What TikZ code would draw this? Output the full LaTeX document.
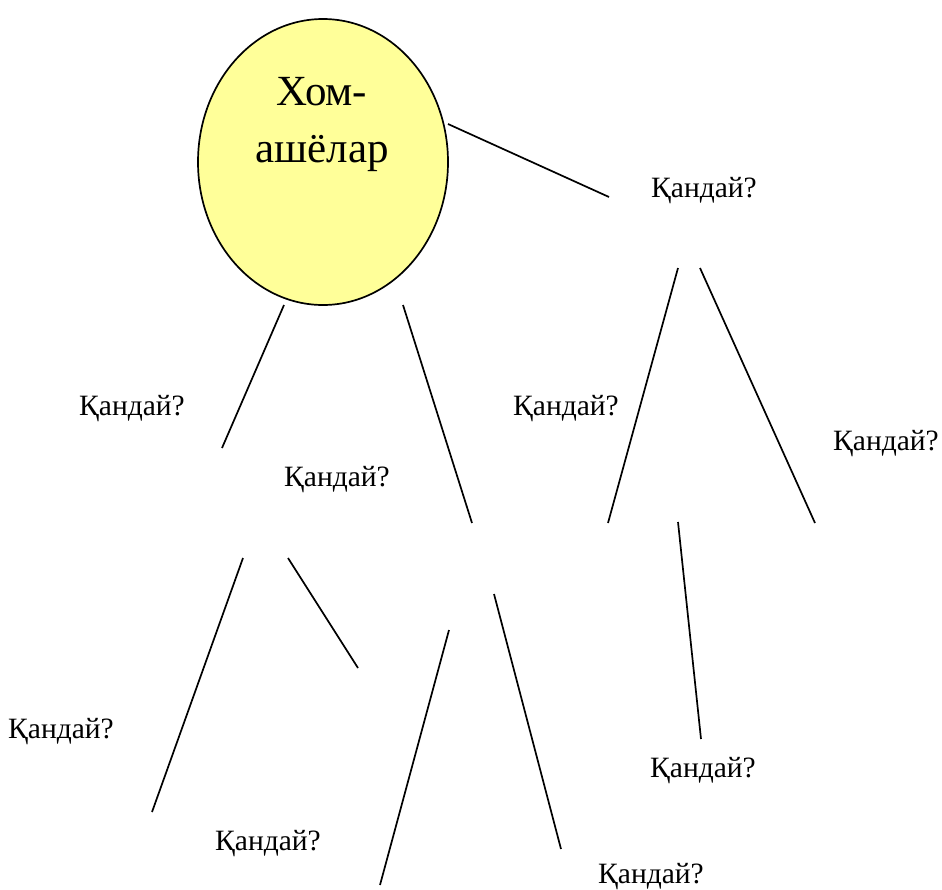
\documentclass[tikz,border=0pt]{standalone}
\usepackage{fontspec}
\setmainfont{Liberation Serif}
\usetikzlibrary{shapes.geometric}
\definecolor{rootfill}{HTML}{FFFF99}
\begin{document}
\begin{tikzpicture}[x=1pt,y=-1pt,
  q/.style={anchor=base,inner sep=0pt,font=\fontsize{29.5}{35}\selectfont},
  big/.style={anchor=base,inner sep=0pt,font=\fontsize{43}{52}\selectfont},
  conn/.style={line width=1.7pt,black}]
\useasboundingbox (0,0) rectangle (942,889);
\node[ellipse,draw,line width=1.7pt,fill=rootfill,minimum width=250,minimum height=286,inner sep=0pt] (root) at (323,162) {};
\node[big] (t1) at (322,105) {Хом-};
\node[big] (t2) at (322,162) {ашёлар};
% question labels
\node[q] (q1) at (704,197) {Қандай?};
\node[q] (q2) at (132,415) {Қандай?};
\node[q] (q3) at (337,486) {Қандай?};
\node[q] (q4) at (566,415) {Қандай?};
\node[q] (q5) at (886,450) {Қандай?};
\node[q] (q6) at (61,738) {Қандай?};
\node[q] (q7) at (703,777) {Қандай?};
\node[q] (q8) at (268,850) {Қандай?};
\node[q] (q9) at (651,883) {Қандай?};
% connector end points
\coordinate (a1) at (448,124); \coordinate (b1) at (609,197);
\coordinate (a2) at (284,305); \coordinate (b2) at (222,448);
\coordinate (a3) at (403,305); \coordinate (b3) at (472,523);
\coordinate (a4) at (678,268); \coordinate (b4) at (608,523);
\coordinate (a5) at (700,268); \coordinate (b5) at (815,523);
\coordinate (a6) at (243,558); \coordinate (b6) at (152,812);
\coordinate (a7) at (288,558); \coordinate (b7) at (358,668);
\coordinate (a8) at (449,630); \coordinate (b8) at (380,885);
\coordinate (a9) at (494,594); \coordinate (b9) at (561,849);
\coordinate (a10) at (678,522); \coordinate (b10) at (701,739);
\foreach \i in {1,...,10} {\draw[conn] (a\i) -- (b\i);}
\end{tikzpicture}
\end{document}
